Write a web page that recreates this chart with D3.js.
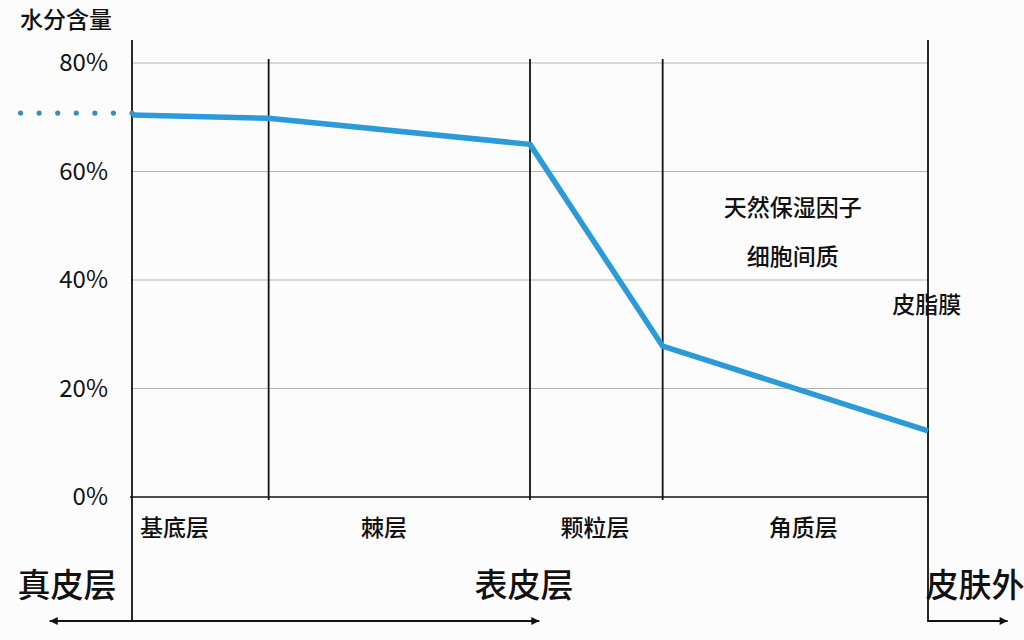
<!DOCTYPE html>
<html><head><meta charset="utf-8">
<script src="https://cdn.jsdelivr.net/npm/d3@7"></script>
<style>
html,body{margin:0;padding:0;background:#fdfcfd;}
svg{display:block;}
text{font-family:"Noto Sans CJK SC","Liberation Sans",Arial,sans-serif;fill:#111;}
</style></head>
<body>
<svg id="chart" width="1024" height="640"></svg>
<script>
// ---- data ----
const boundaries = [0, 1.03, 3, 4, 6];          // layer boundaries along depth
const waterPct = [70.4, 69.8, 65.0, 27.8, 12.2]; // water content at each boundary
const yTicks = [0, 20, 40, 60, 80];
const layerNames = ["基底层", "棘层", "颗粒层", "角质层"];
const layerLabelPos = [0.32, 1.9, 3.49, 5.06];
const regionNames = ["真皮层", "表皮层", "皮肤外"];
const annotations = ["天然保湿因子", "细胞间质", "皮脂膜"];
const annotationPos = [[4.98, 208], [4.98, 257], [5.99, 305]];
const dottedStart = -0.84;

const svg = d3.select("#chart");
const x = d3.scaleLinear().domain([0, 6]).range([132, 928]);
const y = d3.scaleLinear().domain([0, 80]).range([497, 63]);

// gridlines
svg.append("g").selectAll("line").data(yTicks.filter(d => d > 0)).join("line")
  .attr("x1", x(0)).attr("x2", x(6))
  .attr("y1", d => y(d)).attr("y2", d => y(d))
  .attr("stroke", "#b4b4b4").attr("stroke-width", 1);

// y axis labels
const yAxis = d3.axisLeft(y).tickValues(yTicks).tickFormat(d => d + "%").tickSize(0).tickPadding(24);
const ya = svg.append("g").attr("transform", `translate(${x(0)},0)`).call(yAxis);
ya.select(".domain").remove();
ya.selectAll("text").attr("font-size", 24).attr("font-family", "'Liberation Sans',Arial,sans-serif").attr("fill", "#111");

// baseline
svg.append("line").attr("x1", x(0) - 2).attr("x2", x(6)).attr("y1", y(0)).attr("y2", y(0))
  .attr("stroke", "#111").attr("stroke-width", 1.6);

// vertical boundary lines
svg.append("g").selectAll("line").data(boundaries).join("line")
  .attr("x1", d => x(d)).attr("x2", d => x(d))
  .attr("y1", (d, i) => (i === 0 || i === boundaries.length - 1) ? 40 : 59)
  .attr("y2", (d, i) => (i === 0 || i === boundaries.length - 1) ? 622 : 500)
  .attr("stroke", "#111").attr("stroke-width", 1.8);

// dotted extension into dermis
const dots = d3.range(7).map(i => dottedStart + i * (0 - dottedStart) / 6);
svg.append("g").selectAll("circle").data(dots).join("circle")
  .attr("cx", d => x(d)).attr("cy", y(waterPct[0]) - 2).attr("r", 2.6)
  .attr("fill", "#3b8db8");

// water line
const line = d3.line().x((d, i) => x(boundaries[i])).y(d => y(d));
svg.append("path").datum(waterPct).attr("d", line)
  .attr("fill", "none").attr("stroke", "#2a9ad9").attr("stroke-width", 5.5)
  .attr("stroke-linejoin", "round");

// layer labels
svg.append("g").selectAll("text").data(layerNames).join("text")
  .attr("x", (d, i) => x(layerLabelPos[i])).attr("y", 536)
  .attr("text-anchor", "middle").attr("font-size", 23).attr("font-weight", 500)
  .text(d => d);

// arrows
const defs = svg.append("defs");
defs.append("marker").attr("id", "ah").attr("viewBox", "0 0 10 10").attr("refX", 10).attr("refY", 5)
  .attr("markerWidth", 12).attr("markerHeight", 8).attr("markerUnits", "userSpaceOnUse").attr("orient", "auto")
  .append("path").attr("d", "M0,0L10,5L0,10Z").attr("fill", "#111");
const arrowY = 621;
const arrows = [[0, -0.62], [0, 3.07], [6, 6.6]];
svg.append("g").selectAll("line").data(arrows).join("line")
  .attr("x1", d => x(d[0])).attr("x2", d => x(d[1]))
  .attr("y1", arrowY).attr("y2", arrowY)
  .attr("stroke", "#111").attr("stroke-width", 1.8).attr("marker-end", "url(#ah)");

// region labels
const regionX = [67, 524, 975];
svg.append("g").selectAll("text").data(regionNames).join("text")
  .attr("x", (d, i) => regionX[i]).attr("y", 597)
  .attr("text-anchor", "middle").attr("font-size", 33).attr("font-weight", 500)
  .text(d => d);

// annotations
svg.append("g").selectAll("text").data(annotations).join("text")
  .attr("x", (d, i) => x(annotationPos[i][0])).attr("y", (d, i) => annotationPos[i][1] + 8)
  .attr("text-anchor", "middle").attr("font-size", 23).attr("font-weight", 500)
  .text(d => d);

// y title
svg.append("text").attr("x", 20).attr("y", 28).attr("font-size", 23).attr("font-weight", 500).text("水分含量");
</script>
</body></html>
